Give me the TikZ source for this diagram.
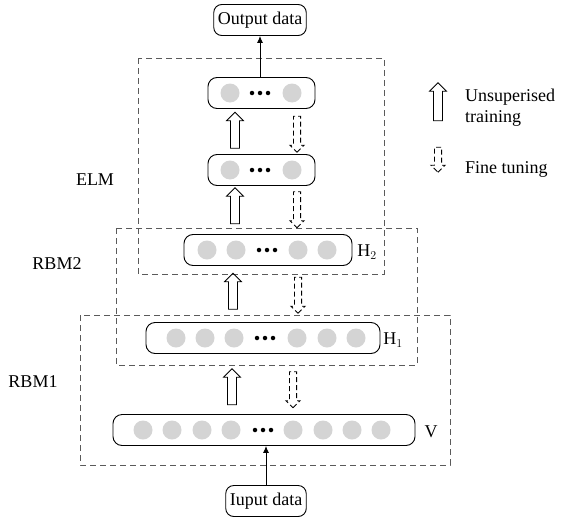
\documentclass[tikz,border=0pt]{standalone}
\usepackage{fontspec}
\setmainfont{Liberation Serif}
\usetikzlibrary{shapes.arrows,positioning,arrows.meta}

\definecolor{unitgray}{RGB}{212,212,212}
\definecolor{boxgray}{RGB}{90,90,90}

\tikzset{
  layer/.style={draw, line width=0.9pt, rounded corners=9pt, minimum height=31pt, inner sep=0pt},
  databox/.style={draw, line width=0.9pt, rounded corners=8pt, minimum height=31pt, inner sep=3pt},
  unit/.style={circle, fill=unitgray, minimum size=19pt, inner sep=0pt},
  dotmark/.style={circle, fill=black, minimum size=4.5pt, inner sep=0pt},
  region/.style={draw=boxgray, line width=0.9pt, dash pattern=on 6pt off 4pt},
  upfat/.style={single arrow, draw, line width=0.8pt, shape border rotate=90,
    minimum height=36pt, minimum width=17pt, single arrow head extend=4pt,
    single arrow head indent=0pt, inner sep=4pt},
  downfat/.style={upfat, shape border rotate=270, minimum width=14pt,
    single arrow head extend=3.5pt, inner sep=3.2pt, dash pattern=on 5pt off 3pt},
  feed/.style={-{Latex[length=7pt,width=6pt]}, line width=0.9pt},
  txt/.style={font=\fontsize{18}{21}\selectfont, inner sep=0pt}
}

\begin{document}
\begin{tikzpicture}[x=1pt,y=-1pt]
\useasboundingbox (0,0) rectangle (561,519);

% dashed regions
\draw[region] (138,58) rectangle (384,274);
\draw[region] (116,228) rectangle (417,365);
\draw[region] (80,315) rectangle (450,465);

% layers
\node[layer, minimum width=107pt] (top) at (261.5,93) {};
\node[layer, minimum width=107pt] (mid) at (261.5,170) {};
\node[layer, minimum width=168pt] (h2) at (268,250) {};
\node[layer, minimum width=234pt] (h1) at (263,338) {};
\node[layer, minimum width=302pt] (vis) at (264,430) {};

% units in each layer
\foreach \x in {230,292} {
  \node[unit] at (\x,93) {};
  \node[unit] at (\x,170) {};
}
\foreach \x in {207,236,298,327} \node[unit] at (\x,250) {};
\foreach \x in {176,205,234,297,327,356} \node[unit] at (\x,338) {};
\foreach \x in {143,172,202,231,293,323,352,381} \node[unit] at (\x,430) {};

% dots
\foreach \xc/\yc in {260/93,260/170,267/250,265/338,263/430} {
  \foreach \d in {-8,0,8} \node[dotmark] at (\xc+\d,\yc) {};
}

% data boxes
\node[databox, txt, inner sep=4pt] (out) at (260,20) {Output data};
\node[databox, txt, inner sep=4pt] (inp) at (266,501) {Iuput data};
\draw[feed] (top.north -| out) -- (out.south);
\draw[feed] (inp.north) -- (inp.north |- vis.south);

% training arrows
\node[upfat] (u4) at (235,132.5) {};
\node[downfat] (d4) at (297,132.5) {};
\node[upfat] (u3) at (235,208) {};
\node[downfat] (d3) at (297,208) {};
\node[upfat] (u2) at (233,293.5) {};
\node[downfat] (d2) at (298,293.5) {};
\node[upfat] (u1) at (232,389) {};
\node[downfat] (d1) at (293,388) {};

% layer labels
\node[txt] (lh2) at (367,252) {H$_2$};
\node[txt] (lh1) at (393,340) {H$_1$};
\node[txt] (lv) at (431,432) {V};
\node[txt] (elm) at (95,180) {ELM};
\node[txt] (rbm2) at (57,264) {RBM2};
\node[txt] (rbm1) at (33,382) {RBM1};

% legend
\node[upfat, minimum height=38pt] (legup) at (438,104) {};
\node[downfat, minimum height=25pt] (legdown) at (438,158) {};
\node[txt, anchor=west, align=left] (legtrain) at (465,108) {Unsuperised\\training};
\node[txt, anchor=west] (legtune) at (465,169) {Fine tuning};
\end{tikzpicture}
\end{document}
